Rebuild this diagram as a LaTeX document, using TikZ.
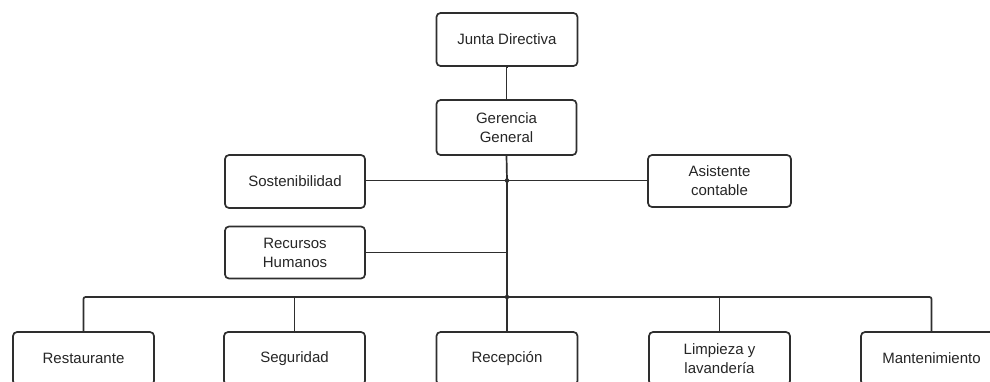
\documentclass[tikz,border=0pt]{standalone}
\usepackage{fontspec}
\setmainfont{Liberation Sans}
\begin{document}
\begin{tikzpicture}[x=1pt,y=-1pt,
  box/.style={draw=linec, fill=white, line width=1.7pt, rounded corners=4pt,
    minimum width=141pt, minimum height=53pt, inner sep=2pt, align=center,
    text=textc, font=\fontsize{15pt}{19pt}\selectfont},
  conn/.style={draw=linec, line width=1.7pt},
  dot/.style={circle, fill=linec, inner sep=0pt, minimum size=4.5pt}]
\definecolor{linec}{HTML}{2E2E2E}
\definecolor{textc}{HTML}{262626}
\useasboundingbox (0,0) rectangle (990,381);
\fill[white] (0,0) rectangle (990,381);
% top
\node[box] (junta) at (507,39.5) {Junta Directiva};
\node[box, minimum width=140pt, minimum height=55pt] (ger) at (506.5,127.5) {Gerencia\\General};
% staff
\node[box, minimum width=140pt] (sost) at (295,181.5) {Sostenibilidad};
\node[box, minimum width=140pt, minimum height=52pt] (rrhh) at (295,252.5) {Recursos\\Humanos};
\node[box, minimum width=143pt, minimum height=52pt] (asis) at (719.5,181) {Asistente\\contable};
% bottom
\node[box] (rest) at (83.5,358.5) {Restaurante};
\node[box] (seg) at (294.5,358.5) {Seguridad};
\node[box] (rec) at (507,358.5) {Recepción};
\node[box] (limp) at (719.5,358.5) {Limpieza y\\lavandería};
\node[box] (mant) at (931.5,358.5) {Mantenimiento};
% junctions
\coordinate (j1) at (507,180.5);
\coordinate (j2) at (507,297);
% connectors
\draw[conn] (junta.south) -- (ger.south |- junta.south) -- (ger.north);
\draw[conn] (ger.south) -- (j1) -- (j2) -- (rec.north);
\draw[conn] (sost.east |- j1) -- (asis.west |- j1);
\draw[conn] (rrhh.east) -- (rrhh.east -| j1);
\draw[conn, rounded corners=2pt] (rest.north) |- (j2) -| (mant.north);
\draw[conn] (seg.north) -- (seg.north |- j2);
\draw[conn] (limp.north) -- (limp.north |- j2);
\node[dot] (d1) at (j1) {};
\node[dot] (d2) at (j2) {};
\end{tikzpicture}
\end{document}
